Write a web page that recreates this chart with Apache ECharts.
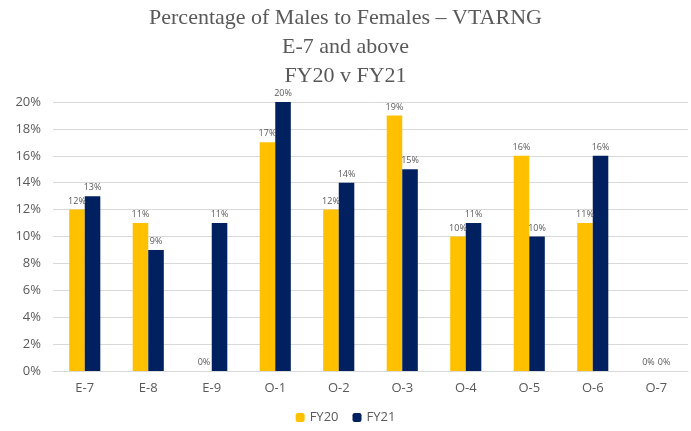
<!DOCTYPE html>
<html>
<head>
<meta charset="utf-8">
<script src="https://cdn.jsdelivr.net/npm/echarts@6/dist/echarts.min.js"></script>
<style>
  html, body { margin: 0; padding: 0; background: #fff; }
  #chart { width: 691px; height: 431px; }
</style>
</head>
<body>
<div id="chart"></div>
<script>
const categories = ['E-7', 'E-8', 'E-9', 'O-1', 'O-2', 'O-3', 'O-4', 'O-5', 'O-6', 'O-7']
const fy20 = [12, 11, 0, 17, 12, 19, 10, 16, 11, 0]
const fy21 = [13, 9, 11, 20, 14, 15, 11, 10, 16, 0]

const iChart = echarts.init(document.getElementById('chart'))

const labelStyle = {
  show: true,
  position: 'top',
  distance: 4,
  fontSize: 9,
  color: '#595959',
  fontFamily: 'Open Sans',
  formatter: p => p.value + '%'
}

const option = {
  animation: false,
  title: {
    text: 'Percentage of Males to Females – VTARNG\nE-7 and above\nFY20 v FY21',
    left: 'center',
    top: -1,
    textStyle: {
      fontFamily: 'Liberation Serif',
      fontWeight: 'normal',
      fontSize: 22,
      lineHeight: 29,
      color: '#595959'
    }
  },
  legend: {
    bottom: 2,
    left: 'center',
    itemWidth: 9,
    itemHeight: 9,
    itemGap: 14,
    textStyle: { fontSize: 13, color: '#595959', fontFamily: 'Open Sans' },
    data: ['FY20', 'FY21']
  },
  grid: { left: 53, right: 3, top: 102, bottom: 60 },
  xAxis: {
    type: 'category',
    data: categories,
    axisTick: { show: false },
    axisLine: { lineStyle: { color: '#d9d9d9' } },
    axisLabel: { fontSize: 13, color: '#595959', fontFamily: 'Open Sans', margin: 11 }
  },
  yAxis: {
    type: 'value',
    min: 0,
    max: 20,
    interval: 2,
    axisLabel: { formatter: '{value}%', fontSize: 13, color: '#595959', fontFamily: 'Open Sans', margin: 12 },
    splitLine: { lineStyle: { color: '#d9d9d9' } }
  },
  series: [
    {
      name: 'FY20',
      type: 'bar',
      data: fy20,
      barGap: '0%',
      barCategoryGap: '51%',
      itemStyle: { color: '#FFC000' },
      label: labelStyle
    },
    {
      name: 'FY21',
      type: 'bar',
      data: fy21,
      itemStyle: { color: '#002060' },
      label: labelStyle
    }
  ]
}

iChart.setOption(option)
</script>
</body>
</html>
